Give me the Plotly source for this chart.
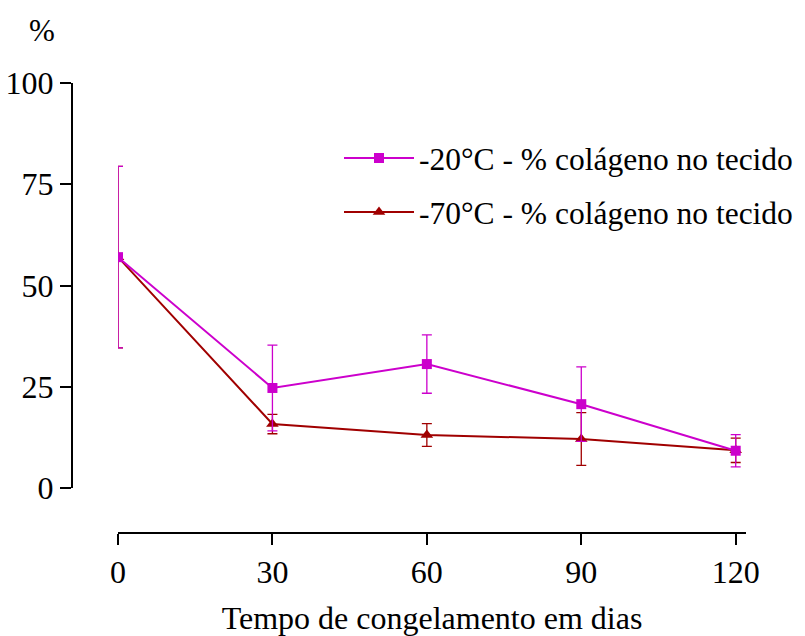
import plotly.graph_objects as go

days = [0, 30, 60, 90, 120]
minus20_mean = [57.0, 24.7, 30.6, 20.7, 9.2]
minus20_sd = [22.4, 10.6, 7.2, 9.2, 4.0]
minus70_mean = [57.0, 15.8, 13.1, 12.1, 9.3]
minus70_sd = [22.4, 2.4, 2.8, 6.5, 3.0]
x_ticks = [0, 30, 60, 90, 120]
y_ticks = [0, 25, 50, 75, 100]
name20 = "-20°C - % colágeno no tecido"
name70 = "-70°C - % colágeno no tecido"

PINK = "#CC00CC"
RED = "#A00000"
FONT = "Liberation Serif, Times New Roman, serif"

fig = go.Figure()
fig.add_trace(go.Scatter(
    x=days, y=minus70_mean, name=name70, mode="lines+markers", legendgroup="g70",
    legendrank=2,
    line=dict(color=RED, width=2),
    marker=dict(symbol="triangle-up", size=11, color=RED),
    error_y=dict(type="data", array=minus70_sd, color=RED, thickness=1.3, width=5),
))
fig.add_trace(go.Scatter(
    x=days, y=minus20_mean, name=name20, mode="lines+markers", legendgroup="g20",
    legendrank=1,
    line=dict(color=PINK, width=2),
    marker=dict(symbol="square", size=10, color=PINK),
    error_y=dict(type="data", array=minus20_sd, color=PINK, thickness=1.3, width=5),
))

W, H = 805, 636
L, R, T, B = 72, 805 - 746, 83, 636 - 533
pw = W - L - R
ph = H - T - B

fig.update_layout(
    width=W, height=H,
    margin=dict(l=L, r=R, t=T, b=B, autoexpand=False),
    paper_bgcolor="white", plot_bgcolor="white",
    font=dict(family=FONT, size=32, color="black"),
    showlegend=True,
    legend=dict(
        xref="container", yref="container",
        x=339 / W, y=1 - 131 / H, xanchor="left", yanchor="top",
        traceorder="grouped", tracegroupgap=10,
        font=dict(size=31.5, family=FONT),
        bgcolor="rgba(0,0,0,0)", itemwidth=70,
    ),
    xaxis=dict(
        domain=[(118 - L) / pw, 1], range=[0, 122], automargin=False,
        tickvals=x_ticks, ticks="outside", ticklen=11, tickwidth=2,
        tickcolor="black", showline=True, linecolor="black", linewidth=2,
        showgrid=False, zeroline=False, anchor="free", position=0,
        tickfont=dict(size=32, family=FONT),
        title=dict(text="Tempo de congelamento em dias", font=dict(size=32, family=FONT), standoff=22),
    ),
    yaxis=dict(
        domain=[(533 - 488) / ph, 1], range=[0, 100], automargin=False,
        tickvals=y_ticks, ticks="outside", ticklen=11, tickwidth=2,
        tickcolor="black", showline=True, linecolor="black", linewidth=2,
        showgrid=False, zeroline=False, anchor="free", position=0,
        tickfont=dict(size=32, family=FONT),
    ),
    annotations=[dict(
        text="%", xref="paper", yref="paper",
        x=(42 - L) / pw, y=(533 - 30) / ph, xanchor="center", yanchor="middle",
        showarrow=False, font=dict(size=31, family=FONT),
    )],
)

fig.write_html("out.html", config={"displayModeBar": False},
               post_script="document.body.style.margin='0';")
